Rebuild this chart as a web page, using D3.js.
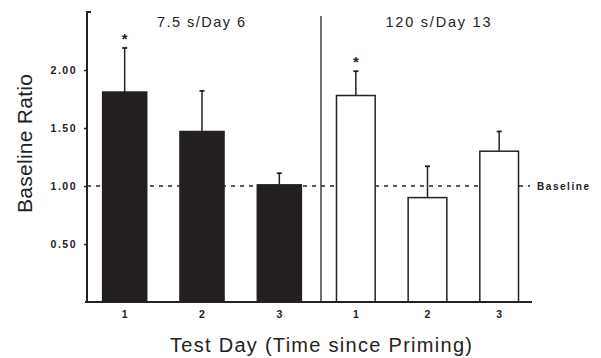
<!DOCTYPE html>
<html>
<head>
<meta charset="utf-8">
<script src="https://cdn.jsdelivr.net/npm/d3@7"></script>
<style>
  body { margin: 0; background: #fff; }
  svg { display: block; font-family: "Liberation Sans", Arial, sans-serif; }
</style>
</head>
<body>
<div id="chart"></div>
<script>
// ---- Data ----
const DAYS = ['1', '2', '3'];
const PANELS = ['7.5 s/Day 6', '120 s/Day 13'];
const SHORT_MEANS = [1.81, 1.47, 1.01];   // 7.5 s priming
const SHORT_ERR   = [0.38, 0.35, 0.10];
const LONG_MEANS  = [1.78, 0.90, 1.30];   // 120 s priming
const LONG_ERR    = [0.21, 0.27, 0.17];
const SIGNIF      = [[true, false, false], [true, false, false]];
const Y_TICKS     = [0.5, 1.0, 1.5, 2.0];
const BASELINE    = 1.0;

(function () {
  const W = 601, H = 358;
  const M = { left: 87, right: 532, top: 12, bottom: 302 };
  const divX = 321;

  const svg = d3.select('#chart').append('svg')
    .attr('width', W).attr('height', H);

  const y = d3.scaleLinear().domain([0, 2.5]).range([M.bottom, M.top]);

  // two panels, each with its own band scale
  const xL = d3.scaleBand().domain(DAYS).range([86, 318]).paddingInner(0.43).paddingOuter(0.215);
  const xR = d3.scaleBand().domain(DAYS).range([320, 535]).paddingInner(0.46).paddingOuter(0.23);

  const panels = [
    { x: xL, means: SHORT_MEANS, err: SHORT_ERR, fill: '#231f20', sig: SIGNIF[0], title: PANELS[0], cx: 201, tw: 88 },
    { x: xR, means: LONG_MEANS,  err: LONG_ERR,  fill: '#fff',    sig: SIGNIF[1], title: PANELS[1], cx: 438, tw: 105 },
  ];

  // ---- baseline dashed line ----
  svg.append('line')
    .attr('x1', M.left).attr('x2', 530)
    .attr('y1', y(BASELINE)).attr('y2', y(BASELINE))
    .attr('stroke', '#222').attr('stroke-width', 1.3)
    .attr('stroke-dasharray', '4,5');

  svg.append('text')
    .attr('x', 537).attr('y', y(BASELINE) + 4)
    .attr('font-size', 10).attr('font-weight', 'bold')
    .attr('textLength', 52)
    .attr('fill', '#222')
    .text('Baseline');

  // ---- bars and error bars ----
  panels.forEach(p => {
    const g = svg.append('g');
    DAYS.forEach((d, i) => {
      const bx = p.x(d), bw = p.x.bandwidth(), cx = bx + bw / 2;
      const errTop = y(p.means[i] + p.err[i]);
      g.append('line')
        .attr('x1', cx).attr('x2', cx)
        .attr('y1', y(p.means[i])).attr('y2', errTop)
        .attr('stroke', '#222').attr('stroke-width', 1.5);
      g.append('line')
        .attr('x1', cx - 2.5).attr('x2', cx + 2.5)
        .attr('y1', errTop).attr('y2', errTop)
        .attr('stroke', '#222').attr('stroke-width', 1.8);
      g.append('rect')
        .attr('x', bx).attr('y', y(p.means[i]))
        .attr('width', bw).attr('height', y(0) - y(p.means[i]))
        .attr('fill', p.fill)
        .attr('stroke', '#222').attr('stroke-width', 1.5);
      if (p.sig[i]) {
        g.append('text')
          .attr('x', cx).attr('y', errTop - 4)
          .attr('text-anchor', 'middle')
          .attr('font-size', 15).attr('font-weight', 'bold')
          .attr('fill', '#222')
          .text('*');
      }
      g.append('text')
        .attr('x', cx).attr('y', 318)
        .attr('text-anchor', 'middle')
        .attr('font-size', 10.5).attr('font-weight', 'bold')
        .attr('fill', '#222')
        .text(d);
    });
    svg.append('text')
      .attr('x', p.cx - p.tw / 2).attr('y', 27)
      .attr('font-size', 14.5)
      .attr('textLength', p.tw)
      .attr('fill', '#222')
      .text(p.title);
  });

  // ---- axes ----
  const yAxis = svg.append('g')
    .attr('transform', `translate(${M.left},0)`)
    .call(d3.axisLeft(y).tickValues(Y_TICKS).tickSize(3).tickPadding(7)
      .tickFormat(d3.format('.2f')));
  yAxis.select('.domain').remove();
  yAxis.selectAll('line').attr('stroke', '#222').attr('stroke-width', 1.5);
  yAxis.selectAll('text')
    .attr('font-size', 10.5).attr('font-weight', 'bold')
    .attr('letter-spacing', 1.5)
    .attr('font-family', '"Liberation Sans", Arial, sans-serif')
    .attr('fill', '#222');

  svg.append('path')
    .attr('d', `M${M.left + 4},${M.top}H${M.left}V${M.bottom}`)
    .attr('fill', 'none').attr('stroke', '#222').attr('stroke-width', 2);
  svg.append('line')
    .attr('x1', M.left - 2).attr('x2', M.right)
    .attr('y1', M.bottom).attr('y2', M.bottom)
    .attr('stroke', '#222').attr('stroke-width', 2);

  // divider between panels
  svg.append('line')
    .attr('x1', divX).attr('x2', divX)
    .attr('y1', 16).attr('y2', M.bottom)
    .attr('stroke', '#222').attr('stroke-width', 1.3);

  // ---- axis titles ----
  svg.append('text')
    .attr('transform', `translate(32,213) rotate(-90)`)
    .attr('font-size', 21)
    .attr('textLength', 139)
    .attr('fill', '#222')
    .text('Baseline Ratio');

  svg.append('text')
    .attr('x', 170).attr('y', 352)
    .attr('font-size', 20)
    .attr('textLength', 302)
    .attr('fill', '#222')
    .text('Test Day (Time since Priming)');
}());
</script>
</body>
</html>
